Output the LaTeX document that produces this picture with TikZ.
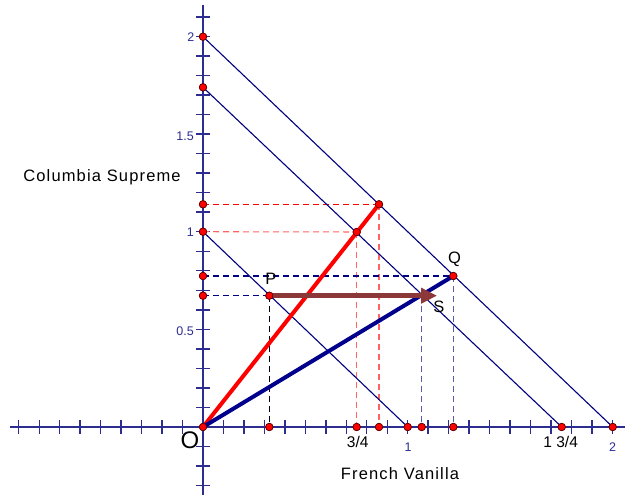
\documentclass[tikz,border=0pt]{standalone}
\usepackage{fontspec}
\setmainfont{Liberation Sans}
\usetikzlibrary{arrows.meta}
\definecolor{axisblue}{RGB}{45,45,145}
\definecolor{navyline}{RGB}{0,0,128}
\definecolor{thickblue}{RGB}{0,0,140}
\definecolor{brownarrow}{RGB}{140,56,56}
\definecolor{pinkdash}{RGB}{255,100,100}
\definecolor{lightbluedash}{RGB}{90,90,170}
\definecolor{dotedge}{RGB}{90,0,0}
\begin{document}
\begin{tikzpicture}[x=1pt,y=-1pt,
  dot/.style={circle,fill=red,draw=dotedge,line width=0.6pt,inner sep=0pt,minimum size=7.5pt},
  axisline/.style={axisblue,line width=2pt},
  tickline/.style={axisblue,line width=1.4pt},
  diag/.style={navyline,line width=1.1pt},
  dashpat/.style={dash pattern=on 6pt off 4pt,line width=1.05pt},
  reddash/.style={dashpat,red},
  pinkdashed/.style={dashpat,pinkdash},
  bluedash/.style={dashpat,navyline},
  lightdash/.style={dashpat,lightbluedash},
  darkdash/.style={dashpat,black!80!navyline},
  numlab/.style={text=axisblue,font=\fontsize{12.5}{13}\selectfont,inner sep=0pt},
  fraclab/.style={text=black,font=\fontsize{15.5}{16}\selectfont,inner sep=0pt},
  ptlab/.style={text=black,font=\fontsize{16.5}{17}\selectfont,inner sep=0pt},
  axtitle/.style={text=black,font=\fontsize{16.5}{18}\selectfont\addfontfeatures{LetterSpace=7},inner sep=0pt}
]
\useasboundingbox (0,0) rectangle (625,495);
\fill[white] (0,0) rectangle (625,495);

% axes
\coordinate (xl) at (10,427);
\coordinate (xr) at (625,427);
\coordinate (yt) at (203,5);
\coordinate (yb) at (203,495);
\draw[axisline] (xl) -- (xr);
\draw[axisline] (yt) -- (yb);
\foreach \i in {-9,...,20}{
  \draw[tickline] ({203+\i*20.47},420) -- ({203+\i*20.47},434);
}
\foreach \j in {-3,...,21}{
  \draw[tickline] (196,{427-\j*19.53}) -- (210,{427-\j*19.53});
}

% points
\node[dot] (O) at (203,427) {};
\node[dot] (Y2) at (203,36.7) {};
\node[dot] (Y175) at (203,87.3) {};
\node[dot] (Yr) at (203,204.3) {};
\node[dot] (Y1) at (203,231.7) {};
\node[dot] (YQ) at (203,276) {};
\node[dot] (YP) at (203,295.7) {};
\node[dot] (X13) at (269.3,427) {};
\node[dot] (X34) at (356.7,427) {};
\node[dot] (Xr) at (379,427) {};
\node[dot] (X1) at (407.7,427) {};
\node[dot] (XS) at (421.7,427) {};
\node[dot] (XQ) at (453.3,427) {};
\node[dot] (X175) at (561.7,427) {};
\node[dot] (X2) at (612.7,427) {};
\node[dot] (P) at (269.3,295.7) {};
\node[dot] (Q) at (453.3,276) {};
\node[dot] (R1) at (356.7,232) {};
\node[dot] (R2) at (379,204.3) {};
\coordinate (S) at (421.7,295.7);
\coordinate (tip) at (437,295.7);

% dashed guide lines
\draw[reddash] (Yr.center) -- (R2.center);
\draw[pinkdashed] (Y1.center) -- (R1.center);
\draw[pinkdashed] (R1.center) -- (X34.center);
\draw[pinkdashed] (R2.center) -- (Xr.center);
\draw[bluedash] (YQ.center) -- (Q.center);
\draw[bluedash] (YP.center) -- (P.center);
\draw[darkdash] (P.center) -- (X13.center);
\draw[lightdash] (S) -- (XS.center);
\draw[lightdash] (Q.center) -- (XQ.center);

% budget lines
\draw[diag] (Y1.center) -- (X1.center);
\draw[diag] (Y175.center) -- (X175.center);
\draw[diag] (Y2.center) -- (X2.center);

% thick lines
\draw[red,line width=4pt] (O.center) -- (R2.center);
\draw[thickblue,line width=4pt] (O.center) -- (Q.center);
\draw[brownarrow,line width=5pt,-{Triangle[length=16pt,width=15pt]}] (P.center) -- (tip);

% redraw dots on top
\foreach \n in {O,Y2,Y175,Yr,Y1,YQ,YP,X13,X34,Xr,X1,XS,XQ,X175,X2,P,Q,R1,R2}{
  \fill[red,draw=dotedge,line width=0.6pt] (\n.center) circle (3.7pt);
}

% labels
\node[numlab,anchor=east] (l2) at (194.5,37) {2};
\node[numlab,anchor=east] (l15) at (194,136) {1.5};
\node[numlab,anchor=east] (l1) at (194,232.5) {1};
\node[numlab,anchor=east] (l05) at (194,331.5) {0.5};
\node[numlab] (lx1) at (408,447) {1};
\node[numlab] (lx2) at (612.5,447) {2};
\node[fraclab] (f34) at (357.7,441.5) {3/4};
\node[fraclab] (f134) at (560.7,441.5) {1 3/4};
\node[text=black,font=\fontsize{24}{26}\selectfont,inner sep=0pt] (lO) at (190,440) {O};
\node[ptlab] (lP) at (271,278.5) {P};
\node[ptlab] (lQ) at (454.5,259) {Q};
\node[ptlab] (lS) at (439,306.5) {S};
\node[axtitle] (ty) at (102,177) {Columbia Supreme};
\node[axtitle] (tx) at (400,474) {French Vanilla};
\end{tikzpicture}
\end{document}
